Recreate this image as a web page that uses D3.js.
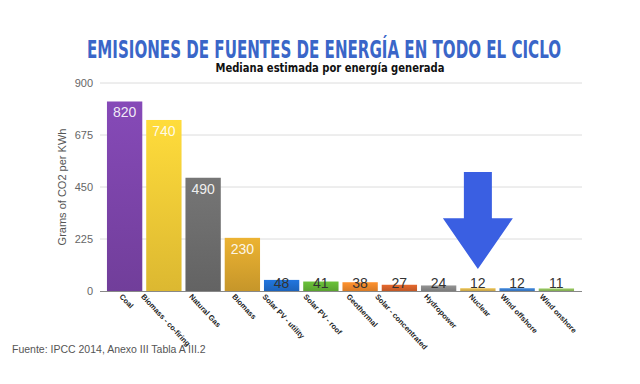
<!DOCTYPE html>
<html>
<head>
<meta charset="utf-8">
<script src="https://cdn.jsdelivr.net/npm/d3@7"></script>
<style>
  body { margin: 0; background: #fff; }
</style>
</head>
<body>
<div id="chart"></div>
<script>
const sources = [
  "Coal", "Biomass - co-firing", "Natural Gas", "Biomass", "Solar PV - utility",
  "Solar PV - roof", "Geothermal", "Solar - concentrated", "Hydropower",
  "Nuclear", "Wind offshore", "Wind onshore"
];
const values = [820, 740, 490, 230, 48, 41, 38, 27, 24, 12, 12, 11];
const barColors = [
  "#7b44a8", "#f1c936", "#6c6c6c", "#d8a42e", "#1f6ccc", "#62b234",
  "#ec862a", "#d2602a", "#878787", "#d8b24c", "#3a7ccb", "#8dbb5a"
];
const yTicks = [0, 225, 450, 675, 900];

const width = 640;
const height = 384;
const margin = { top: 83, right: 59, bottom: 93, left: 100 };

const svg = d3.select("#chart")
  .append("svg")
  .attr("width", width)
  .attr("height", height)
  .style("font-family", "'Liberation Sans', Arial, sans-serif");

const x = d3.scaleBand()
  .domain(sources)
  .range([105, 576])
  .paddingInner(0.1)
  .paddingOuter(0.05);

const y = d3.scaleLinear()
  .domain([0, 900])
  .range([height - margin.bottom, margin.top]);

// gradients for bars
const defs = svg.append("defs");
sources.forEach((s, i) => {
  const g = defs.append("linearGradient")
    .attr("id", "grad" + i)
    .attr("x1", 0).attr("y1", 0).attr("x2", 0).attr("y2", 1);
  g.append("stop").attr("offset", "0%").attr("stop-color", d3.color(barColors[i]).brighter(0.25));
  g.append("stop").attr("offset", "100%").attr("stop-color", d3.color(barColors[i]).darker(0.25));
});

// Title
svg.append("text")
  .attr("x", 324)
  .attr("y", 58)
  .attr("text-anchor", "middle")
  .attr("font-family", "'Liberation Sans Narrow', 'DejaVu Sans Condensed', sans-serif")
  .attr("font-weight", "bold")
  .attr("font-size", "25px")
  .attr("fill", "#3a66c8")
  .attr("textLength", 474)
  .attr("lengthAdjust", "spacingAndGlyphs")
  .text("EMISIONES DE FUENTES DE ENERGÍA EN TODO EL CICLO");

svg.append("text")
  .attr("x", 330)
  .attr("y", 72)
  .attr("text-anchor", "middle")
  .attr("font-family", "'Liberation Sans Narrow', 'DejaVu Sans Condensed', sans-serif")
  .attr("font-weight", "bold")
  .attr("font-size", "12.5px")
  .attr("fill", "#111")
  .attr("textLength", 229)
  .attr("lengthAdjust", "spacingAndGlyphs")
  .text("Mediana estimada por energía generada");

// gridlines + y tick labels
svg.append("g")
  .selectAll("line")
  .data(yTicks.filter(d => d > 0))
  .join("line")
  .attr("x1", 100)
  .attr("x2", 582)
  .attr("y1", d => y(d))
  .attr("y2", d => y(d))
  .attr("stroke", "#dcdcdc")
  .attr("stroke-width", 1);

svg.append("g")
  .selectAll("text")
  .data(yTicks)
  .join("text")
  .attr("x", 93)
  .attr("y", d => y(d) + 4)
  .attr("text-anchor", "end")
  .attr("font-size", "11px")
  .attr("fill", "#666")
  .text(d => d);

svg.append("text")
  .attr("transform", `translate(66,${y(450)}) rotate(-90)`)
  .attr("text-anchor", "middle")
  .attr("font-size", "11px")
  .attr("fill", "#555")
  .text("Grams of CO2 per KWh");

// bars
svg.append("g")
  .selectAll("rect")
  .data(sources)
  .join("rect")
  .attr("x", d => x(d))
  .attr("y", (d, i) => y(values[i]))
  .attr("width", x.bandwidth())
  .attr("height", (d, i) => y(0) - y(values[i]))
  .attr("fill", (d, i) => `url(#grad${i})`);

// baseline
svg.append("line")
  .attr("x1", 100)
  .attr("x2", 582)
  .attr("y1", y(0) + 0.5)
  .attr("y2", y(0) + 0.5)
  .attr("stroke", "#888")
  .attr("stroke-width", 1);

// value labels
svg.append("g")
  .selectAll("text")
  .data(sources)
  .join("text")
  .attr("x", d => x(d) + x.bandwidth() / 2)
  .attr("y", (d, i) => values[i] > 100 ? y(values[i]) + 16 : y(0) - 3)
  .attr("text-anchor", "middle")
  .attr("font-size", "14px")
  .attr("fill", (d, i) => values[i] > 100 ? "#fff" : "#333")
  .attr("fill-opacity", (d, i) => values[i] > 100 ? 0.9 : 1)
  .text((d, i) => values[i]);

// x labels, rotated around their centre under each bar
const ang = 47;
const rad = ang * Math.PI / 180;
svg.append("g")
  .selectAll("text")
  .data(sources)
  .join("text")
  .attr("font-size", "7.5px")
  .attr("font-weight", "bold")
  .attr("fill", "#222")
  .text(d => d)
  .attr("transform", function (d) {
    const L = this.getComputedTextLength();
    const cx = x(d) + x.bandwidth() / 2;
    return `translate(${cx - L / 2 * Math.cos(rad)},${y(0) + 6}) rotate(${ang})`;
  });

// arrow pointing at nuclear
const ax = x("Nuclear") + x.bandwidth() / 2;
const shaftW = 14, headW = 35;
const yTop = y(515), yHead = y(315), yTip = y(95);
svg.append("path")
  .attr("d", `M${ax - shaftW},${yTop}H${ax + shaftW}V${yHead}H${ax + headW}L${ax},${yTip}L${ax - headW},${yHead}H${ax - shaftW}Z`)
  .attr("fill", "#3a5fe2");

// source
svg.append("text")
  .attr("x", 12)
  .attr("y", 353)
  .attr("font-size", "10.5px")
  .attr("fill", "#555")
  .text("Fuente: IPCC 2014, Anexo III Tabla A III.2");
</script>
</body>
</html>
